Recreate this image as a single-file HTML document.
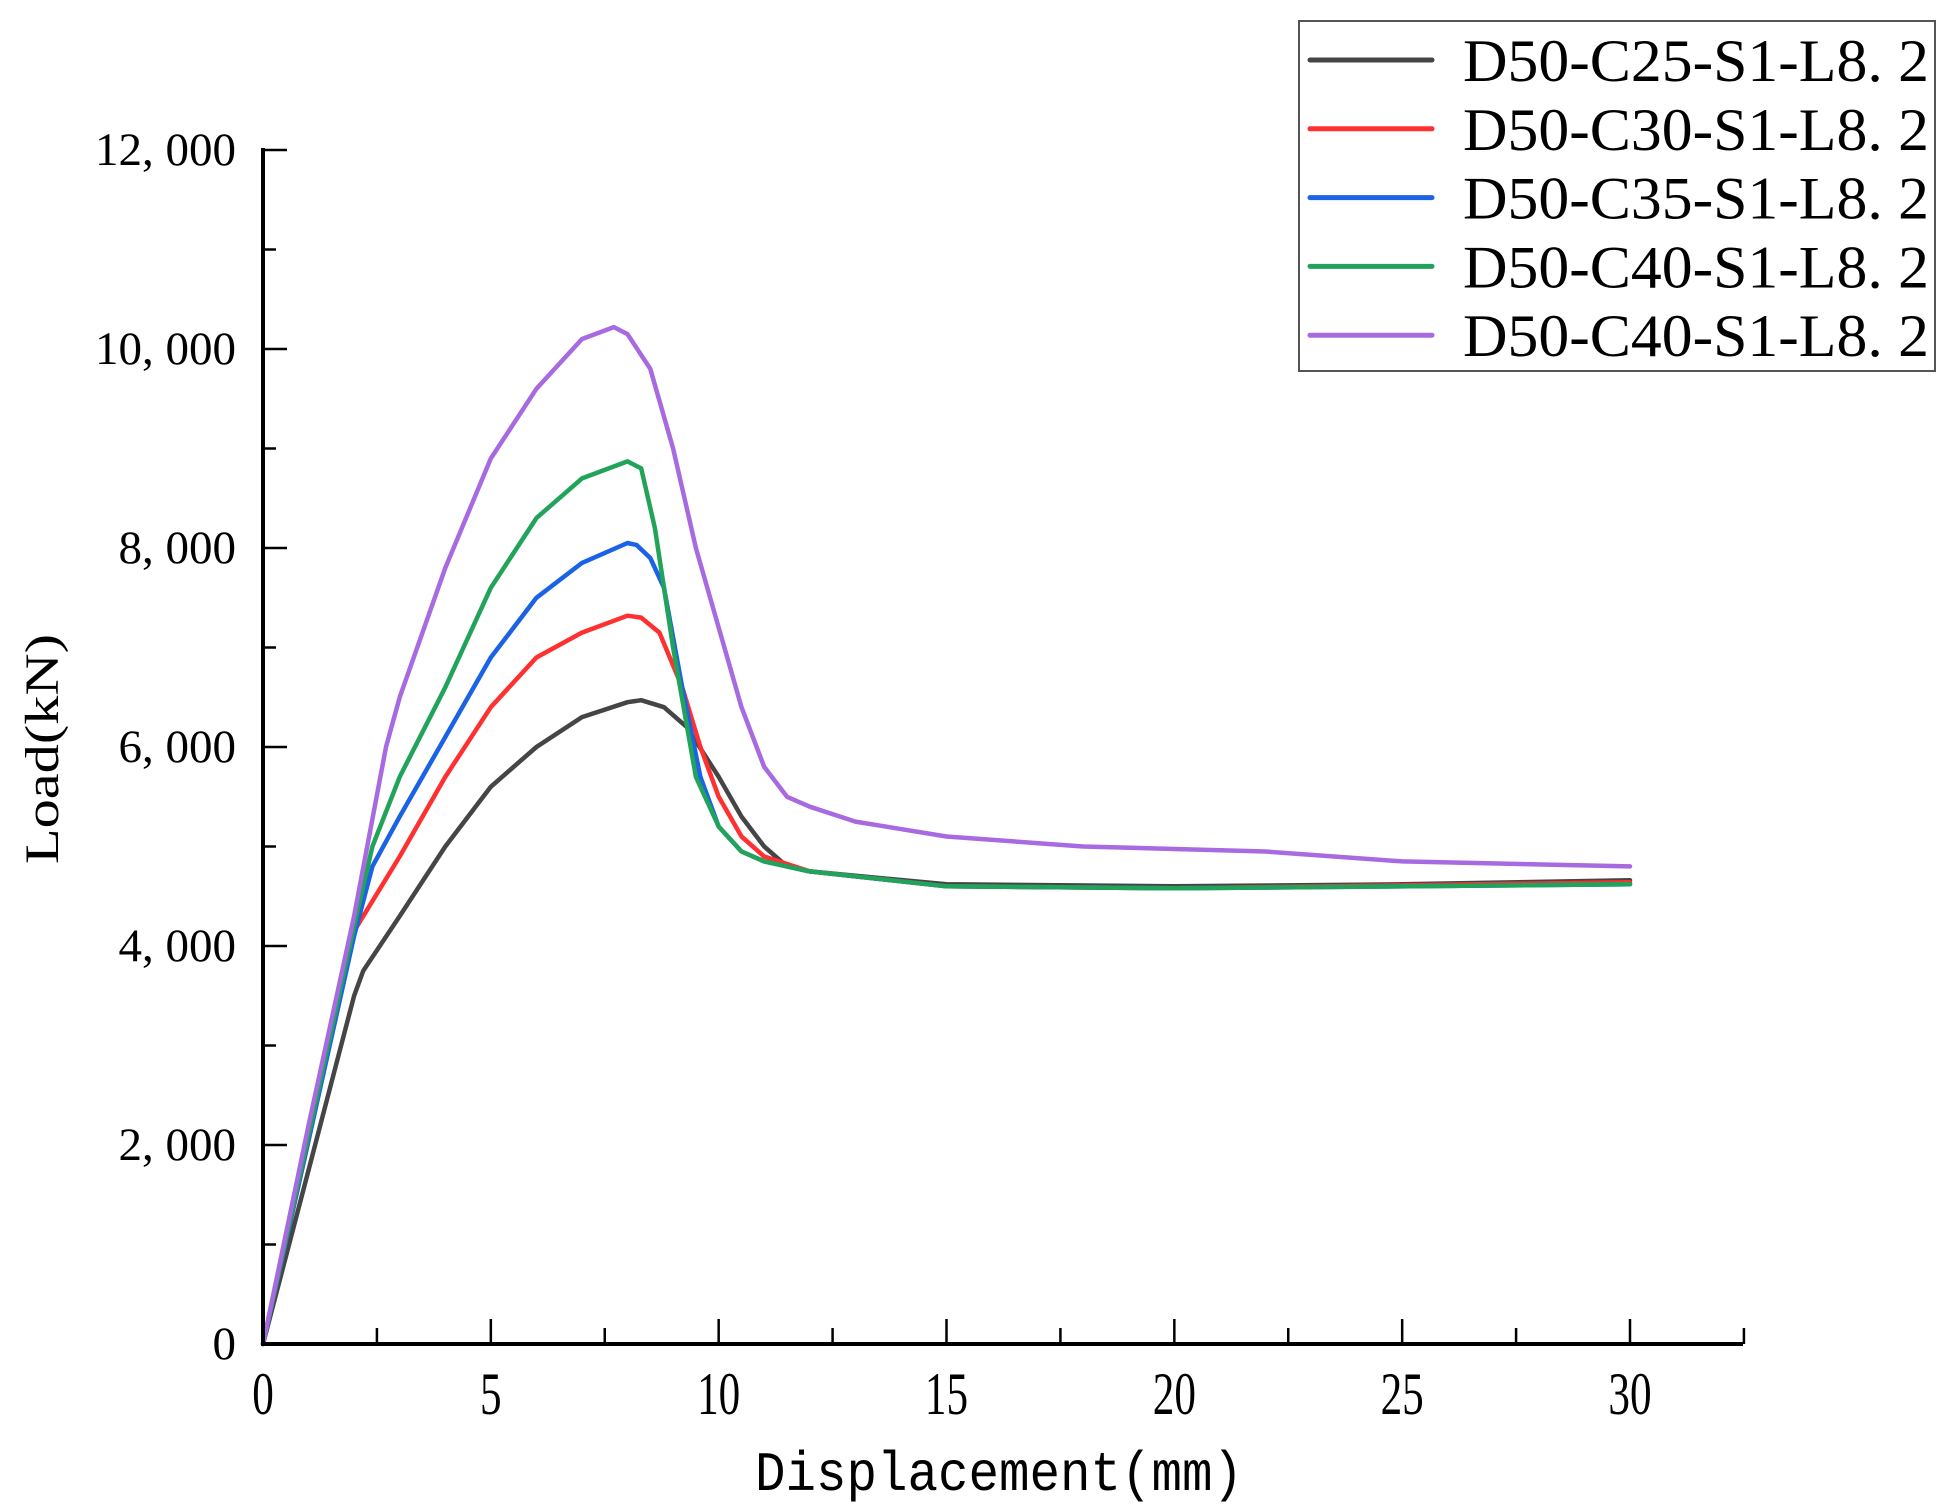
<!DOCTYPE html>
<html><head><meta charset="utf-8"><style>
html,body{margin:0;padding:0;background:#fff;}
svg{display:block;}
</style></head><body>
<svg id="chart" width="1948" height="1506" viewBox="0 0 1948 1506" xmlns="http://www.w3.org/2000/svg"></svg>
<script>
const xTicks=[0,5,10,15,20,25,30];
const yTicks=[0,2000,4000,6000,8000,10000,12000];
const yTickLabels=["0","2, 000","4, 000","6, 000","8, 000","10, 000","12, 000"];
const seriesNames=["D50-C25-S1-L8. 2","D50-C30-S1-L8. 2","D50-C35-S1-L8. 2","D50-C40-S1-L8. 2","D50-C40-S1-L8. 2"];
const seriesColors=["#454545","#ff3030","#1a63e6","#21a35a","#a86ae0"];
const sBlackX=[0,1,2,2.2,3,4,5,6,7,8,8.3,8.8,9.3,10,10.5,11,11.5,12,15,20,25,30];
const sBlackY=[0,1750,3500,3750,4300,5000,5600,6000,6300,6450,6470,6400,6200,5700,5300,5000,4800,4750,4620,4600,4620,4660];
const sRedX=[0,1,2,3,4,5,6,7,8,8.3,8.7,9.2,9.6,10,10.5,11,12,15,20,30];
const sRedY=[0,2050,4150,4900,5700,6400,6900,7150,7320,7300,7150,6600,6000,5500,5100,4900,4750,4600,4580,4640];
const sBlueX=[0,1,2,2.4,3,4,5,6,7,8,8.2,8.5,8.8,9.2,9.6,10,10.5,11,12,15,20,30];
const sBlueY=[0,2050,4100,4800,5300,6100,6900,7500,7850,8050,8030,7900,7600,6600,5700,5200,4950,4850,4750,4600,4580,4620];
const sGreenX=[0,1,2,2.4,3,4,5,6,7,8,8.3,8.6,9,9.5,10,10.5,11,12,15,20,30];
const sGreenY=[0,2100,4200,5000,5700,6600,7600,8300,8700,8870,8800,8200,7000,5700,5200,4950,4850,4750,4600,4580,4620];
const sPurpleX=[0,1,2,2.7,3,4,5,6,7,7.7,8,8.5,9,9.5,10,10.5,11,11.5,12,13,15,18,22,25,30];
const sPurpleY=[0,2200,4300,6000,6500,7800,8900,9600,10100,10220,10150,9800,9000,8000,7200,6400,5800,5500,5400,5250,5100,5000,4950,4850,4800];
const allX=[sBlackX,sRedX,sBlueX,sGreenX,sPurpleX];
const allY=[sBlackY,sRedY,sBlueY,sGreenY,sPurpleY];

const NS="http://www.w3.org/2000/svg";
const svg=document.getElementById('chart');
const X0=263,X30=1630,Y0=1344,Y12=150;
function sx(v){return X0+(X30-X0)*v/30;}
function sy(v){return Y0-(Y0-Y12)*v/12000;}
function mk(tag,attrs,parent){const e=document.createElementNS(NS,tag);for(const k in attrs)e.setAttribute(k,attrs[k]);(parent||svg).appendChild(e);return e;}

allX.forEach((xs,i)=>{
  const d=xs.map((x,j)=>(j?'L':'M')+sx(x).toFixed(1)+','+sy(allY[i][j]).toFixed(1)).join(' ');
  const p=mk('path',{d:d,fill:'none',stroke:seriesColors[i],'stroke-width':4.5,'stroke-linejoin':'round','stroke-linecap':'round'});
  
  
});

const ax=mk('line',{x1:X0,y1:Y0,x2:1743,y2:Y0,stroke:'#000','stroke-width':4});


const ay=mk('line',{x1:X0,y1:Y0+2,x2:X0,y2:Y12-2,stroke:'#000','stroke-width':4});



for(let v=0;v<=32.5;v+=2.5){
  const major=(v%5===0);
  const t=mk('line',{x1:sx(v),y1:Y0,x2:sx(v),y2:Y0-(major?25:16),stroke:'#000','stroke-width':2.5});
  
  
}
xTicks.forEach(v=>{
  const t=mk('text',{x:sx(v),y:1414,'text-anchor':'middle','font-family':'Liberation Serif, serif','font-size':60,fill:'#000',transform:'translate('+sx(v)+',0) scale(0.72,1) translate('+(-sx(v))+',0)'});
  t.textContent=v;
  
  
});
for(let v=0;v<=12000;v+=1000){
  const major=(v%2000===0);
  const t=mk('line',{x1:X0,y1:sy(v),x2:X0+(major?24:13),y2:sy(v),stroke:'#000','stroke-width':2.5});
  
  
}
yTicks.forEach((v,i)=>{
  const t=mk('text',{x:236,y:sy(v)+15,'text-anchor':'end','font-family':'Liberation Serif, serif','font-size':47,fill:'#000'});
  t.textContent=yTickLabels[i];
  
  
});

const xt=mk('text',{x:755,y:1490,'font-family':'Liberation Mono, monospace','font-size':56,fill:'#000',textLength:488,lengthAdjust:'spacingAndGlyphs'});
xt.textContent='Displacement(mm)';


const yt=mk('text',{x:0,y:0,'font-family':'Liberation Serif, serif','font-size':48,fill:'#000',textLength:230,lengthAdjust:'spacingAndGlyphs',transform:'translate(58,864) rotate(-90)'});
yt.textContent='Load(kN)';



const lg=mk('g',{});


mk('rect',{x:1299,y:21,width:636,height:350,fill:'#fff',stroke:'#555','stroke-width':2},lg);
seriesNames.forEach((n,i)=>{
  const y=60+i*68.8;
  const l=mk('line',{x1:1310,y1:y,x2:1432,y2:y,stroke:seriesColors[i],'stroke-width':5,'stroke-linecap':'round'},lg);
  
  
  const t=mk('text',{x:1463,y:y+21,'font-family':'Liberation Serif, serif','font-size':60,fill:'#000',textLength:466,lengthAdjust:'spacingAndGlyphs'},lg);
  t.textContent=n;
  
  
});
</script>
</body></html>
